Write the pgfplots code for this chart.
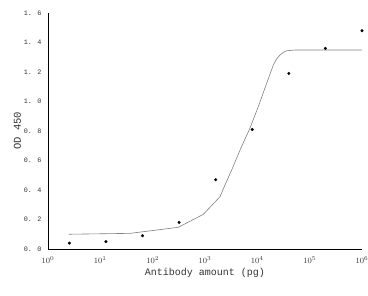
\documentclass[border=0pt]{standalone}
\usepackage{pgfplots}
\pgfplotsset{compat=1.18}
\usepackage{fontspec}
\setmainfont{Liberation Serif}
\newfontfamily\monof{Liberation Mono}
\begin{document}
\begin{tikzpicture}[x=1pt,y=1pt]
\useasboundingbox (0,0) rectangle (368,296);
\begin{axis}[
  at={(48pt,47pt)}, anchor=south west,
  scale only axis, width=314pt, height=236pt,
  xmode=log, xmin=1, xmax=1e6,
  ymin=0, ymax=1.6,
  axis lines=left, axis line style={-, line width=0.9pt, black},
  major tick length=0pt, minor tick length=0pt,
  minor xtick={}, 
  xtick={1,10,100,1000,10000,100000,1000000},
  ytick={0,0.2,0.4,0.6,0.8,1.0,1.2,1.4,1.6},
  yticklabels={0. 0,0. 2,0. 4,0. 6,0. 8,1. 0,1. 2,1. 4,1. 6},
  yticklabel style={font=\monof\fontsize{6.8}{7}\selectfont, text=black!80, xshift=-3pt},
  xticklabel style={font=\fontsize{8}{9}\selectfont, text=black!80, yshift=-4pt},
  xlabel={Antibody amount (pg)},
  ylabel={OD 450},
  xlabel style={font=\monof\fontsize{10}{11}\selectfont, text=black!80, yshift=2pt},
  ylabel style={font=\monof\fontsize{10.5}{11}\selectfont, text=black!80, yshift=-4pt},
  clip=false,
]
\addplot[color=black!50, line width=0.6pt] coordinates {
  (2.5,0.10) (37,0.106) (309,0.147) (930,0.235) (1940,0.355) (2410,0.434)
  (3240,0.536) (4670,0.671) (7240,0.820) (10450,0.966) (15100,1.124)
  (20200,1.247) (23500,1.290) (27100,1.315) (31500,1.333) (36400,1.344)
  (52500,1.349) (1000000,1.349)
};
\addplot[only marks, mark=*, mark size=1.3pt, color=black] coordinates {
  (2.56,0.04) (12.8,0.05) (64,0.09) (320,0.18) (1600,0.47)
  (8000,0.81) (40000,1.19) (200000,1.36) (1000000,1.48)
};
\end{axis}
\end{tikzpicture}
\end{document}
